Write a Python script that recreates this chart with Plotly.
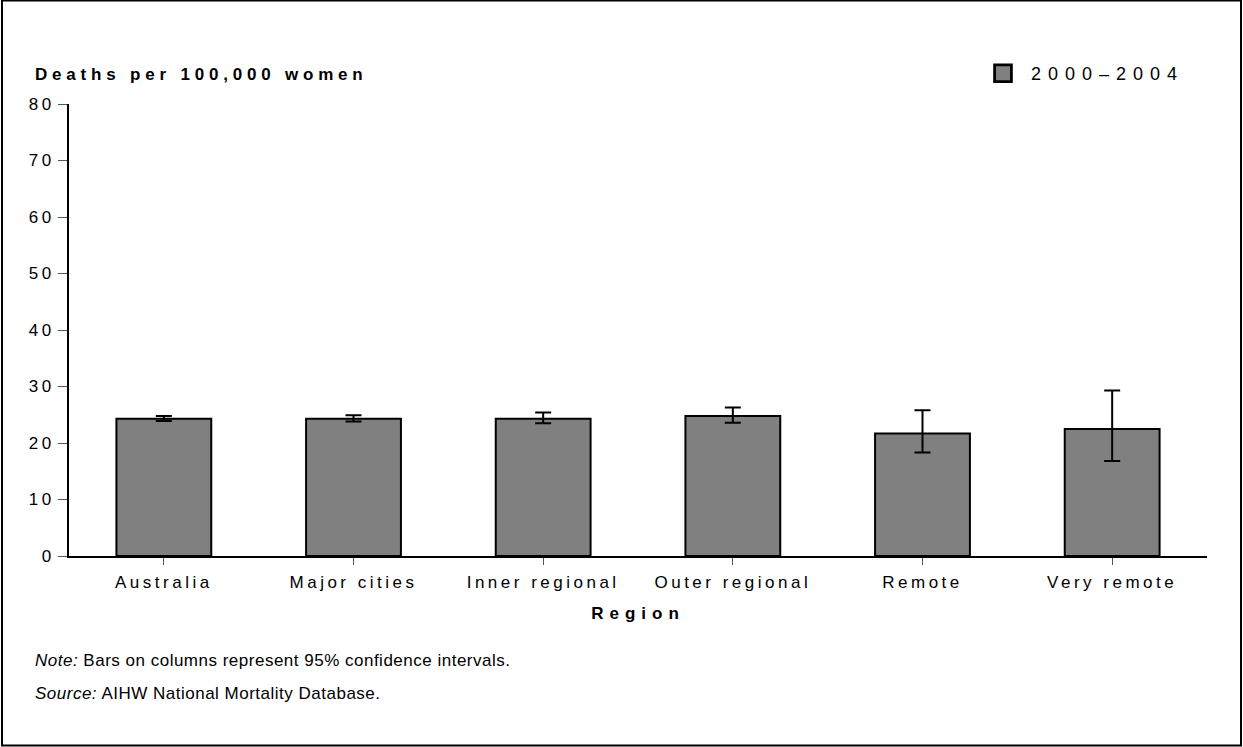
import plotly.graph_objects as go

regions = ["Australia", "Major cities", "Inner regional", "Outer regional", "Remote", "Very remote"]
rates = [24.3, 24.3, 24.3, 24.8, 21.7, 22.5]
ci_low = [23.9, 23.8, 23.5, 23.6, 18.3, 16.8]
ci_high = [24.8, 24.9, 25.4, 26.3, 25.8, 29.3]
series_name = "2000\u20132004"
y_ticks = [0, 10, 20, 30, 40, 50, 60, 70, 80]

err_plus = [h - r for h, r in zip(ci_high, rates)]
err_minus = [r - l for r, l in zip(rates, ci_low)]

W, H = 1243, 747
ml, mr, mt, mb = 69, 36, 104, 191
pw, ph = W - ml - mr, H - mt - mb

def px(x):
    return (x - ml) / pw

def py(y):
    return (H - mb - y) / ph

FONT = "Liberation Sans, Arial, sans-serif"

fig = go.Figure()
fig.add_trace(go.Bar(
    x=regions, y=rates, name=series_name,
    marker=dict(color="#808080", line=dict(color="#000000", width=2)),
    error_y=dict(type="data", symmetric=False, array=err_plus, arrayminus=err_minus,
                 color="#000000", thickness=2, width=8),
    showlegend=True,
))

fig.update_layout(
    width=W, height=H,
    margin=dict(l=ml, r=mr, t=mt, b=mb),
    paper_bgcolor="white", plot_bgcolor="white",
    font=dict(family=FONT, color="#000000", size=17),
    bargap=0.5,
    showlegend=True,
    legend=dict(x=px(991), y=py(55), xanchor="left", yanchor="top",
                font=dict(size=18, family=FONT), bgcolor="rgba(0,0,0,0)",
                itemsizing="constant"),
    xaxis=dict(
        showline=True, linecolor="#000000", linewidth=2,
        ticks="outside", ticklen=7, tickcolor="#555555", tickwidth=1,
        ticklabelstandoff=3,
        tickfont=dict(size=17), showgrid=False, zeroline=False,
        title=dict(text="<b>Region</b>", font=dict(size=17), standoff=16),
    ),
    yaxis=dict(
        range=[0, 80], tickvals=y_ticks,
        showline=True, linecolor="#000000", linewidth=2,
        ticks="outside", ticklen=9, tickcolor="#555555", tickwidth=1,
        tickfont=dict(size=17), showgrid=False, zeroline=False,
    ),
    annotations=[
        dict(text="<b>Deaths per 100,000 women</b>", xref="paper", yref="paper",
             x=px(33), y=py(74), xanchor="left", yanchor="middle",
             showarrow=False, font=dict(size=17)),
        dict(text="<i>Note:</i> Bars on columns represent 95% confidence intervals.",
             xref="paper", yref="paper", x=px(33), y=py(660), xanchor="left", yanchor="middle",
             showarrow=False, font=dict(size=17)),
        dict(text="<i>Source:</i> AIHW National Mortality Database.",
             xref="paper", yref="paper", x=px(33), y=py(693), xanchor="left", yanchor="middle",
             showarrow=False, font=dict(size=17)),
    ],
    shapes=[
        dict(type="rect", xref="paper", yref="paper",
             x0=px(2), x1=px(1241), y0=py(745.5), y1=py(0.5),
             line=dict(color="#000000", width=2), fillcolor="rgba(0,0,0,0)", layer="below"),
    ],
)

post = """
document.body.style.margin = '0';
document.body.style.padding = '0';
function ls(sel, v) { document.querySelectorAll(sel).forEach(function(t){ t.style.letterSpacing = v; }); }
ls('.xtick text', '3.5px');
ls('.ytick text', '3.5px');
ls('.g-xtitle text', '6px');
document.querySelectorAll('.legend, .legend [clip-path]').forEach(function(e){ e.removeAttribute('clip-path'); });
ls('.legendtext', '7px');
var spacing = ['4.8px', '0.5px', '0.5px'];
document.querySelectorAll('.annotation-text').forEach(function(t, i){
  var b = t.getBBox();
  t.setAttribute('text-anchor', 'start');
  t.setAttribute('x', b.x);
  if (i < spacing.length) { t.style.letterSpacing = spacing[i]; }
});
document.querySelectorAll('.legendpoints path').forEach(function(p){ p.setAttribute('transform', 'translate(12,0) scale(1.4)'); });
"""

fig.write_html("out.html", post_script=post, config={"displayModeBar": False})
